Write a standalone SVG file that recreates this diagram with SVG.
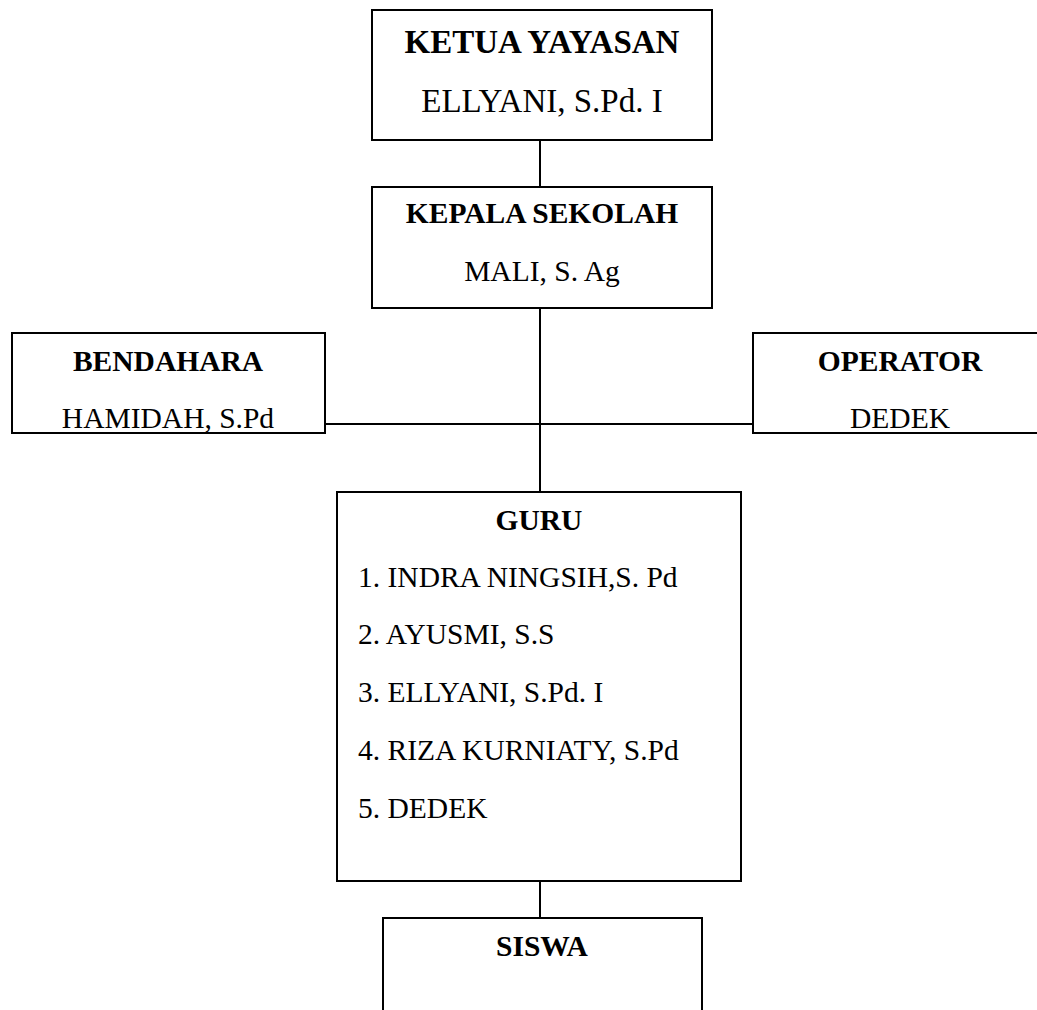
<svg xmlns="http://www.w3.org/2000/svg" width="1037" height="1010" viewBox="0 0 1037 1010">
<style>
.box{fill:#fff;stroke:#000;stroke-width:2}
.ln{stroke:#000;stroke-width:2;fill:none}
text{font-family:"Liberation Serif","Times New Roman",serif;font-size:29.5px;fill:#000}
.b{font-weight:bold}
.c{text-anchor:middle}
.big{font-size:33px}
</style>
<rect width="1037" height="1010" fill="#fff"/>
<g id="connectors">
<line class="ln" x1="540" y1="140" x2="540" y2="187"/>
<line class="ln" x1="540" y1="308" x2="540" y2="492"/>
<line class="ln" x1="325" y1="424" x2="753" y2="424"/>
<line class="ln" x1="540" y1="881" x2="540" y2="918"/>
</g>
<g id="ketua">
<rect class="box" x="372" y="10" width="340" height="130"/>
<text class="b c big" x="542" y="53">KETUA YAYASAN</text>
<text class="c big" x="542" y="112">ELLYANI, S.Pd. I</text>
</g>
<g id="kepala">
<rect class="box" x="372" y="187" width="340" height="121"/>
<text class="b c" x="542" y="223">KEPALA SEKOLAH</text>
<text class="c" x="542" y="281">MALI, S. Ag</text>
</g>
<g id="bendahara">
<rect class="box" x="12" y="333" width="313" height="100"/>
<text class="b c" x="168" y="371">BENDAHARA</text>
<text class="c" x="168" y="428">HAMIDAH, S.Pd</text>
</g>
<g id="operator">
<rect class="box" x="753" y="333" width="300" height="100"/>
<text class="b c" x="900" y="371">OPERATOR</text>
<text class="c" x="900" y="428">DEDEK</text>
</g>
<g id="guru">
<rect class="box" x="337" y="492" width="404" height="389"/>
<text class="b c" x="539" y="530">GURU</text>
<text x="358" y="587">1. INDRA NINGSIH,S. Pd</text>
<text x="358" y="644">2. AYUSMI, S.S</text>
<text x="358" y="702">3. ELLYANI, S.Pd. I</text>
<text x="358" y="760">4. RIZA KURNIATY, S.Pd</text>
<text x="358" y="818">5. DEDEK</text>
</g>
<g id="siswa">
<rect class="box" x="383" y="918" width="319" height="110"/>
<text class="b c" x="542" y="956">SISWA</text>
</g>
</svg>
